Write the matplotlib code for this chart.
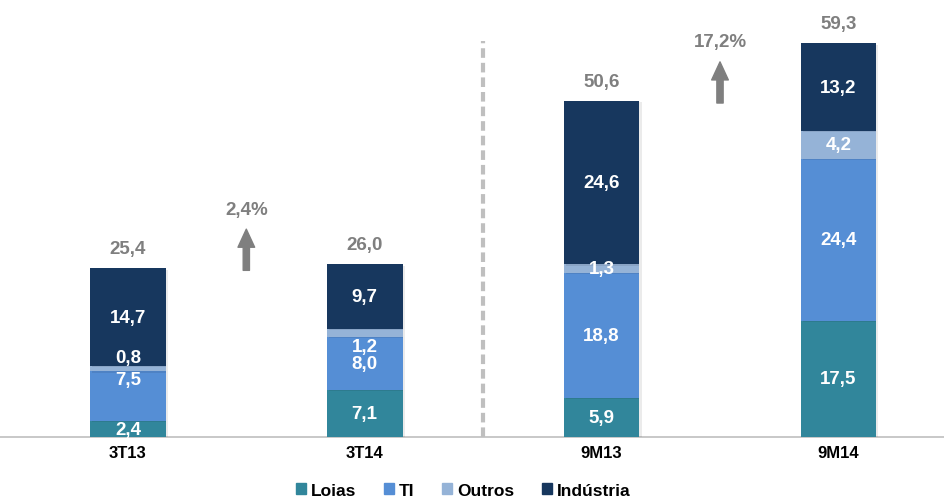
import numpy as np
import matplotlib.pyplot as plt
import matplotlib.patheffects as pe
from matplotlib.patches import Patch

plt.rcParams['font.family'] = ['Liberation Sans', 'DejaVu Sans']

periods = ["3T13", "3T14", "9M13", "9M14"]
series = ["Loias", "TI", "Outros", "Indústria"]
loias = [2.4, 7.1, 5.9, 17.5]
ti = [7.5, 8.0, 18.8, 24.4]
outros = [0.8, 1.2, 1.3, 4.2]
industria = [14.7, 9.7, 24.6, 13.2]
totals = ["25,4", "26,0", "50,6", "59,3"]
growth = ["2,4%", "17,2%"]

colors = ["#31869B", "#558ED5", "#95B3D7", "#17375E"]
# label nudges in points for crowded segments (series x period)
nudges = [[0, 0, 0, 0],
          [12, 0, 0, 0],
          [8, -10, 0, 0],
          [0, 0, 0, 0]]

values = np.array([loias, ti, outros, industria])
x = np.arange(len(periods))

fig = plt.figure(figsize=(9.45, 5.02), dpi=100)
ax = fig.add_axes([0, 0.1275, 1, 0.82])

shadow = [pe.SimplePatchShadow(offset=(1.5, -1), shadow_rgbFace='#000000', alpha=0.08), pe.Normal()]
bottom = np.zeros(len(periods))
for i, name in enumerate(series):
    bars = ax.bar(x, values[i], 0.32, bottom=bottom, color=colors[i],
                  edgecolor='none', zorder=3)
    for b in bars:
        b.set_path_effects(shadow)
    for j in range(len(periods)):
        ax.annotate(f"{values[i][j]:.1f}".replace(".", ","),
                    (x[j], bottom[j] + values[i][j] / 2), xytext=(0, nudges[i][j]),
                    textcoords='offset points', ha='center', va='center',
                    color='white', fontsize=13.5, fontweight='bold', zorder=5)
    bottom += values[i]

for j in range(len(periods)):
    ax.annotate(totals[j], (x[j], bottom[j]), xytext=(0, 14), textcoords='offset points',
                ha='center', va='center', color='#7F7F7F', fontsize=13.5, fontweight='bold')

# growth arrows between pairs
for k, g in enumerate(growth):
    xa = x[2 * k] + 0.5
    base = bottom[2 * k] - 0.3
    ax.annotate("", xy=(xa, base + 6.2), xytext=(xa, base),
                arrowprops=dict(width=4.5, headwidth=12, headlength=13,
                                color='#7F7F7F', shrink=0))
    ax.text(xa, base + 9.2, g, ha='center', va='center', color='#7F7F7F',
            fontsize=13.5, fontweight='bold')

ax.axvline(1.5, ymin=0, ymax=59.6 / 62, color='#BFBFBF', lw=3, ls=(0, (2.3, 1.2)), zorder=1)

ax.set_xlim(-0.54, 3.45)
ax.set_ylim(0, 62)
ax.set_yticks([])
ax.set_xticks(x)
ax.set_xticklabels(periods, fontsize=12, fontweight='bold')
ax.tick_params(axis='x', length=0, pad=6)
for s in ['top', 'right', 'left']:
    ax.spines[s].set_visible(False)
ax.spines['bottom'].set_color('#BFBFBF')
ax.spines['bottom'].set_linewidth(1.2)

handles = [Patch(color=c, label=n) for c, n in zip(colors, series)]
fig.legend(handles=handles, loc='lower center', ncol=4, frameon=False,
           bbox_to_anchor=(0.49, -0.025), prop={'weight': 'bold', 'size': 12.5},
           handlelength=0.6, handleheight=0.6, handletextpad=0.25, columnspacing=1.6)

fig.savefig("out.png", dpi=100)
